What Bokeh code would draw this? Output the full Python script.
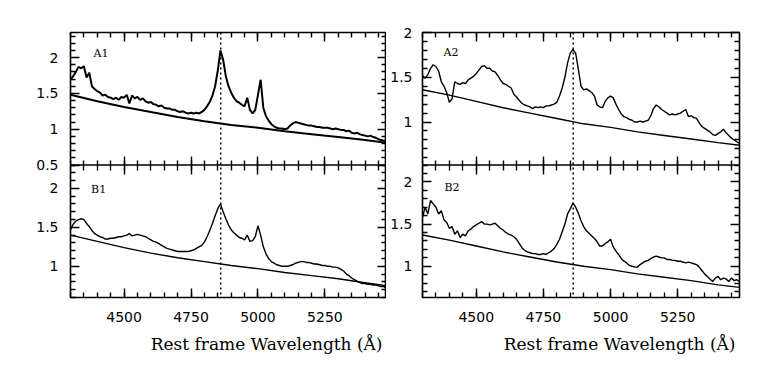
from bokeh.plotting import figure
from bokeh.models import (LinearAxis, SingleIntervalTicker, FixedTicker, Span, Label,
                          Title, Range1d, CustomJSTickFormatter, Grid, CustomLabelingPolicy)
from bokeh.layouts import row
from bokeh.embed import file_html
from bokeh.resources import INLINE

# ---------------- data ----------------
wavelength = list(range(4300, 5490, 10))  # sampling grid (Angstrom)

a1_flux = [
    1.69, 1.74, 1.80, 1.87, 1.85, 1.88, 1.72, 1.79, 1.60, 1.56,
    1.53, 1.51, 1.47, 1.48, 1.45, 1.44, 1.42, 1.44, 1.41, 1.45,
    1.44, 1.48, 1.36, 1.47, 1.43, 1.45, 1.41, 1.43, 1.39, 1.37,
    1.38, 1.35, 1.34, 1.32, 1.33, 1.30, 1.29, 1.29, 1.27, 1.27,
    1.25, 1.24, 1.25, 1.23, 1.22, 1.23, 1.22, 1.23, 1.22, 1.24,
    1.27, 1.32, 1.38, 1.47, 1.60, 1.82, 2.10, 1.97, 1.74, 1.60,
    1.51, 1.44, 1.39, 1.37, 1.34, 1.32, 1.44, 1.27, 1.22, 1.27,
    1.48, 1.69, 1.30, 1.18, 1.12, 1.07, 1.04, 1.02, 1.01, 1.01,
    1.00, 1.01, 1.05, 1.08, 1.10, 1.09, 1.08, 1.07, 1.06, 1.05,
    1.05, 1.04, 1.03, 1.03, 1.02, 1.02, 1.02, 1.01, 1.00, 1.01,
    1.00, 0.99, 0.99, 0.97, 0.98, 0.95, 0.94, 0.95, 0.93, 0.92,
    0.91, 0.90, 0.91, 0.89, 0.88, 0.86, 0.85, 0.84, 0.83]

a2_flux = [
    1.52, 1.49, 1.53, 1.60, 1.64, 1.62, 1.57, 1.45, 1.40, 1.33,
    1.22, 1.26, 1.45, 1.43, 1.42, 1.44, 1.43, 1.47, 1.49, 1.51,
    1.54, 1.58, 1.62, 1.63, 1.60, 1.60, 1.57, 1.56, 1.52, 1.47,
    1.43, 1.42, 1.40, 1.38, 1.31, 1.28, 1.24, 1.21, 1.19, 1.18,
    1.17, 1.15, 1.17, 1.16, 1.17, 1.16, 1.18, 1.18, 1.19, 1.20,
    1.22, 1.29, 1.38, 1.50, 1.66, 1.77, 1.81, 1.77, 1.59, 1.40,
    1.36, 1.37, 1.35, 1.33, 1.29, 1.19, 1.17, 1.16, 1.23, 1.27,
    1.29, 1.27, 1.20, 1.14, 1.09, 1.06, 1.05, 1.03, 1.02, 1.00,
    1.00, 1.01, 1.00, 1.01, 1.02, 1.07, 1.15, 1.19, 1.17, 1.14,
    1.12, 1.10, 1.08, 1.09, 1.08, 1.09, 1.10, 1.12, 1.14, 1.06,
    1.07, 1.05, 1.04, 0.99, 0.95, 0.93, 0.91, 0.89, 0.86, 0.85,
    0.87, 0.89, 0.92, 0.88, 0.85, 0.82, 0.80, 0.78, 0.76]

b1_flux = [
    1.47, 1.54, 1.58, 1.60, 1.61, 1.60, 1.55, 1.51, 1.46, 1.42,
    1.40, 1.38, 1.37, 1.35, 1.35, 1.36, 1.36, 1.37, 1.38, 1.38,
    1.39, 1.40, 1.42, 1.39, 1.40, 1.41, 1.40, 1.39, 1.38, 1.36,
    1.34, 1.32, 1.31, 1.29, 1.27, 1.25, 1.23, 1.22, 1.21, 1.20,
    1.19, 1.19, 1.19, 1.19, 1.19, 1.20, 1.21, 1.23, 1.25, 1.27,
    1.31, 1.38, 1.46, 1.55, 1.65, 1.74, 1.80, 1.70, 1.61, 1.53,
    1.47, 1.43, 1.40, 1.37, 1.36, 1.34, 1.40, 1.32, 1.33, 1.38,
    1.52, 1.40, 1.25, 1.16, 1.10, 1.06, 1.04, 1.02, 1.01, 1.00,
    1.00, 1.00, 1.01, 1.02, 1.04, 1.05, 1.06, 1.06, 1.05, 1.05,
    1.04, 1.03, 1.03, 1.02, 1.01, 1.01, 1.00, 1.00, 0.99, 0.99,
    0.98, 0.96, 0.94, 0.90, 0.88, 0.85, 0.83, 0.81, 0.79, 0.78,
    0.78, 0.77, 0.77, 0.76, 0.76, 0.75, 0.74, 0.74, 0.72]

b2_flux = [
    1.58, 1.70, 1.62, 1.78, 1.74, 1.70, 1.62, 1.66, 1.55, 1.52,
    1.45, 1.47, 1.38, 1.42, 1.34, 1.38, 1.36, 1.42, 1.44, 1.47,
    1.49, 1.51, 1.53, 1.50, 1.50, 1.49, 1.50, 1.51, 1.48, 1.45,
    1.43, 1.40, 1.38, 1.37, 1.35, 1.32, 1.27, 1.22, 1.19, 1.17,
    1.16, 1.15, 1.15, 1.14, 1.14, 1.15, 1.14, 1.16, 1.18, 1.21,
    1.26, 1.32, 1.41, 1.50, 1.62, 1.68, 1.75, 1.70, 1.63, 1.54,
    1.47, 1.42, 1.39, 1.36, 1.33, 1.29, 1.24, 1.24, 1.27, 1.29,
    1.32, 1.23, 1.18, 1.14, 1.09, 1.06, 1.04, 1.01, 1.00, 0.99,
    0.99, 1.02, 1.04, 1.06, 1.07, 1.09, 1.11, 1.12, 1.11, 1.10,
    1.10, 1.08, 1.08, 1.07, 1.07, 1.06, 1.06, 1.05, 1.04, 1.05,
    1.04, 1.03, 1.02, 0.99, 0.95, 0.91, 0.88, 0.85, 0.82, 0.86,
    0.88, 0.84, 0.86, 0.85, 0.82, 0.86, 0.83, 0.84, 0.82]

cont_wavelength = [4300, 4400, 4500, 4600, 4700, 4800, 4900,
                   5000, 5100, 5200, 5300, 5400, 5480]
a1_cont = [1.48, 1.39, 1.31, 1.24, 1.17, 1.11, 1.06, 1.02, 0.97, 0.93, 0.89, 0.85, 0.81]
a2_cont = [1.36, 1.30, 1.23, 1.16, 1.10, 1.04, 0.98, 0.94, 0.89, 0.85, 0.81, 0.77, 0.74]
b1_cont = [1.40, 1.32, 1.24, 1.17, 1.11, 1.06, 1.01, 0.97, 0.92, 0.88, 0.84, 0.79, 0.75]
b2_cont = [1.37, 1.31, 1.24, 1.17, 1.11, 1.05, 1.00, 0.96, 0.91, 0.87, 0.83, 0.78, 0.75]

y_limits = {"A1": (0.5, 2.35), "B1": (0.6, 2.3), "A2": (0.52, 2.0), "B2": (0.63, 2.2)}
label_positions = {"A1": (4386, 2.05), "B1": (4377, 1.99),
                   "A2": (4378, 1.775), "B2": (4382, 1.93)}
hbeta = 4861
x_label = "Rest frame Wavelength (Å)"
x_limits = (4300, 5480)


# ---------------- helpers ----------------
def style_axis(ax, labels, standoff=12):
    ax.axis_line_color = None
    ax.major_tick_in = 9
    ax.major_tick_out = 0
    ax.minor_tick_in = 5
    ax.minor_tick_out = 0
    ax.major_tick_line_width = 1.4
    ax.minor_tick_line_width = 1.4
    ax.major_tick_line_color = "black"
    ax.minor_tick_line_color = "black"
    if labels:
        ax.major_label_text_font = "DejaVu Sans"
        ax.major_label_text_font_size = "14px"
        ax.major_label_text_color = "black"
        ax.major_label_standoff = standoff
    else:
        ax.major_label_text_font_size = "0px"
        ax.major_label_standoff = 0
        ax.major_label_policy = CustomLabelingPolicy(
            code="for (const i of indices) indices.unset(i)")
        ax.axis_label = None


def panel_ticks(lo, hi):
    majors, minors = [], []
    for k in range(0, 40):
        v = round(k * 0.1, 1)
        if lo - 1e-9 <= v <= hi + 1e-9:
            (majors if k % 5 == 0 else minors).append(v)
    return majors, minors


def build_column(top, bot, fluxes, conts, widths, borders, standoff):
    t_lo, t_hi = y_limits[top]
    b_lo, b_hi = y_limits[bot]
    t_start, t_end = t_lo - (t_hi - t_lo), t_hi          # top panel = upper half
    b_start, b_end = b_lo, b_hi + (b_hi - b_lo)          # bottom panel = lower half
    left, right, up, down = borders

    p = figure(frame_width=widths, frame_height=265,
               x_range=Range1d(*x_limits), y_range=Range1d(t_start, t_end),
               extra_y_ranges={"bot": Range1d(b_start, b_end)},
               x_axis_location=None, y_axis_location=None,
               toolbar_location=None, output_backend="svg",
               min_border_left=left, min_border_right=right,
               min_border_top=up, min_border_bottom=down,
               outline_line_color="black", outline_line_width=1.6,
               background_fill_color="white", border_fill_color="white")
    p.center = [r for r in p.center if not isinstance(r, Grid)]

    def conv(v):
        return t_start + (v - b_start) * (t_end - t_start) / (b_end - b_start)

    tmaj, tmin = panel_ticks(t_lo, t_hi)
    bmaj, bmin = panel_ticks(b_lo, b_hi)
    yticker = FixedTicker(ticks=tmaj + [conv(v) for v in bmaj],
                          minor_ticks=tmin + [conv(v) for v in bmin])
    fmt = CustomJSTickFormatter(
        args=dict(split=t_lo - 1e-6, bs=b_start, ts=t_start,
                  k=(b_end - b_start) / (t_end - t_start)),
        code="""
            let v = tick;
            if (tick < split) { v = bs + (tick - ts) * k; }
            return String(Math.round(v * 100) / 100);
        """)

    yl = LinearAxis(ticker=yticker, formatter=fmt)
    style_axis(yl, True, standoff)
    p.add_layout(yl, "left")
    yr = LinearAxis(ticker=yticker)
    style_axis(yr, False)
    p.add_layout(yr, "right")

    xt = SingleIntervalTicker(interval=250, num_minor_ticks=5)
    xb = LinearAxis(ticker=xt)
    style_axis(xb, True, 14)
    p.add_layout(xb, "below")
    xa = LinearAxis(ticker=xt)
    style_axis(xa, False)
    p.add_layout(xa, "above")
    # ticks on the shared edge between the two panels
    xm_up = LinearAxis(ticker=xt, fixed_location=t_lo)
    style_axis(xm_up, False)
    p.add_layout(xm_up, "below")
    xm_dn = LinearAxis(ticker=xt, fixed_location=t_lo)
    style_axis(xm_dn, False)
    p.add_layout(xm_dn, "above")

    p.add_layout(Title(text=x_label, align="right", text_font="DejaVu Serif",
                       text_font_size="17px", text_font_style="normal",
                       text_color="black", offset=4, standoff=14), "below")

    p.add_layout(Span(location=t_lo, dimension="width", line_color="black",
                      line_width=1.6))

    tf, bf = fluxes
    tc, bc = conts
    tlw, blw = (2.0 if top == "A1" else 1.4), 1.4
    p.line(wavelength, tf, line_color="black", line_width=tlw)
    p.line(cont_wavelength, tc, line_color="black", line_width=tlw)
    p.line(wavelength, bf, line_color="black", line_width=blw, y_range_name="bot")
    p.line(cont_wavelength, bc, line_color="black", line_width=blw, y_range_name="bot")

    p.add_layout(Span(location=hbeta, dimension="height", line_color="black",
                      line_dash="2 3", line_width=1.5))
    for name, rng in ((top, "default"), (bot, "bot")):
        x, y = label_positions[name]
        p.add_layout(Label(x=x, y=y, text=name, y_range_name=rng,
                           text_font="DejaVu Serif", text_font_size="11px",
                           text_color="black", text_baseline="alphabetic"))
    return p


left_col = build_column("A1", "B1", (a1_flux, b1_flux), (a1_cont, b1_cont),
                        316, (70, 0, 32, 66), 12)
right_col = build_column("A2", "B2", (a2_flux, b2_flux), (a2_cont, b2_cont),
                         317, (36, 20, 32, 66), 10)

layout = row(left_col, right_col)

open("out.html", "w").write(file_html(layout, INLINE))
